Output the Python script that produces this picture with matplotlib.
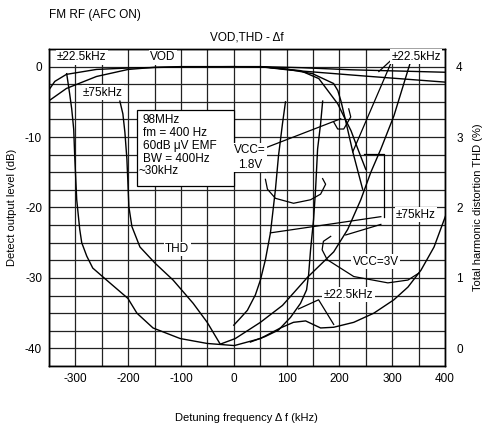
import numpy as np
import matplotlib
matplotlib.use("Agg")
import matplotlib.pyplot as plt

plt.rcParams['font.family'] = ['Liberation Sans', 'DejaVu Sans']
plt.rcParams['axes.unicode_minus'] = False
FS = 8.5

# ---------------- data (x: kHz, VOD: dB, THD: %) ----------------
# VOD curves
vod22_x = [-351, -339, -317, -260, -200, -100, 0, 50, 127, 222, 400]
vod22_y = [-3.4, -2.1, -1.1, -0.4, -0.2, -0.05, 0, 0, -0.15, -0.45, -0.8]
vod75_x = [-351, -317, -260, -200, -150, -100, 0, 60, 107, 250, 400]
vod75_y = [-4.9, -3.1, -1.4, -0.4, -0.1, 0, 0, -0.1, -0.5, -1.35, -2.2]
vod_d1_x = [50, 100, 149, 189, 197, 203, 214, 225, 244]
vod_d1_y = [0, -0.35, -1.0, -2.4, -3.4, -4.9, -8.4, -12.0, -17.4]
vod_d2_x = [69, 126, 161, 178, 197, 208, 222, 235, 250]
vod_d2_y = [-0.14, -0.57, -1.7, -3.4, -5.3, -7.0, -9.1, -11.7, -14.6]

# THD curves
thd1_x = [-316.5, -310.8, -307, -303.2, -301.3, -297.5, -291.8, -288, -278.5, -267.1,
          -234.8, -200.6, -183.5, -153, -101.7, -50.4, 1, 50.4, 88.4, 113, 136,
          164.4, 189.2, 227.2, 265.2, 303.2, 329.8, 354.5, 379.3, 402]
thd1_y = [3.9, 3.61, 3.4, 3.11, 2.73, 2.11, 1.69, 1.5, 1.31, 1.14,
          0.93, 0.71, 0.5, 0.29, 0.14, 0.07, 0.04, 0.14, 0.29, 0.37, 0.39,
          0.29, 0.3, 0.37, 0.5, 0.69, 0.87, 1.11, 1.44, 1.9]
thd2_x = [-215.8, -210.1, -206.3, -202.5, -200.6, -198.7, -193, -177.8, -149.2, -115,
          -77, -50.4, -25.7, 2.9, 50.4, 92.2, 139.7, 189.2, 215.8, 240.5, 259.5,
          278.5, 303.2, 335.6]
thd2_y = [3.51, 3.33, 3.07, 2.69, 2.36, 2.01, 1.73, 1.44, 1.21, 0.97,
          0.64, 0.37, 0.06, 0.14, 0.37, 0.61, 1.01, 1.37, 1.69, 2.11, 2.5,
          2.83, 3.3, 4.09]
thd3_x = [0, 12.4, 25.7, 40.9, 50.4, 59.9, 69.4, 78.9, 84.6, 92.2, 97.9]
thd3_y = [0.33, 0.43, 0.54, 0.76, 0.97, 1.26, 1.64, 2.26, 2.73, 3.19, 3.5]
thd4_x = [31.4, 59.9, 84.6, 107.4, 126.4, 137.8, 141.6, 145.4, 151.1, 154.9, 158.7, 164.4, 168.3]
thd4_y = [0.09, 0.17, 0.26, 0.44, 0.64, 0.83, 1.04, 1.4, 1.83, 2.26, 2.83, 3.19, 3.51]

# leader lines / arcs (x kHz, y dB)
lead_vcc18_x = [54.2, 202.5]
lead_vcc18_y = [-11.7, -7.4]
hook_x = [189.2, 196.8, 208.2, 221.5, 217.7]
hook_y = [-7.86, -8.86, -8.86, -7.14, -6.0]
arc18_x = [59.9, 63.7, 78.9, 113.1, 145.4, 164.4, 173.9, 168.2]
arc18_y = [-16.0, -17.4, -18.7, -19.4, -18.9, -18.1, -16.7, -15.9]
lead75a_x = [69.4, 278.5]
lead75a_y = [-23.6, -21.3]
lead75b_x = [212, 278.5]
lead75b_y = [-23.9, -22.4]
bracket_x = [246.2, 284.2, 284.2]
bracket_y = [-12.4, -12.4, -21.3]
lead22a_x = [301.3, 274.7]
lead22a_y = [1.14, -0.7]
lead22b_x = [301.3, 225.3]
lead22b_y = [1.14, -12.1]
lead22c_x = [122.6, 160.6, 189.2]
lead22c_y = [-34.4, -33.1, -36.6]
arc3_x = [183.5, 169.7, 167.3, 176.8, 227.2, 291.8, 329.8, 350.7]
arc3_y = [-24.1, -24.8, -26.0, -27.4, -29.8, -30.7, -30.3, -29.3]

x_ticks = [-300, -200, -100, 0, 100, 200, 300, 400]
db_ticks = [-40, -30, -20, -10, 0]
thd_ticks = [0, 1, 2, 3, 4]

# ---------------- figure ----------------
fig = plt.figure(figsize=(4.88, 4.30), dpi=100)
ax = fig.add_axes([49/488, 1-366/430, 396/488, 317/430])
ax.set_xlim(-350, 400)
ax.set_ylim(-42.5, 2.5)
ax2 = ax.twinx()
ax2.set_ylim(-0.25, 4.25)

ax.set_xticks(x_ticks)
ax.set_xticks(np.arange(-350, 401, 50), minor=True)
ax.set_yticks(db_ticks)
ax.set_yticks(np.arange(-42.5, 2.6, 2.5), minor=True)
ax2.set_yticks(thd_ticks)
ax.grid(True, which='both', color='#222222', lw=0.9)
ax.set_axisbelow(True)
for a in (ax, ax2):
    a.tick_params(which='both', length=0, labelsize=FS, pad=5)
    for s in a.spines.values():
        s.set_linewidth(1.0)
ax2.tick_params(pad=8)

lk = dict(color='black', lw=1.0)
ax.plot(vod22_x, vod22_y, **lk)
ax.plot(vod75_x, vod75_y, **lk)
ax.plot(vod_d1_x, vod_d1_y, **lk)
ax.plot(vod_d2_x, vod_d2_y, **lk)

ax2.plot(thd1_x, thd1_y, **lk)
ax2.plot(thd2_x, thd2_y, **lk)
ax2.plot(thd3_x, thd3_y, **lk)
ax2.plot(thd4_x, thd4_y, **lk)

T = ax.transData
for xs, ys in [(lead_vcc18_x, lead_vcc18_y), (hook_x, hook_y), (arc18_x, arc18_y),
               (lead75a_x, lead75a_y), (lead75b_x, lead75b_y), (bracket_x, bracket_y),
               (lead22a_x, lead22a_y), (lead22b_x, lead22b_y), (lead22c_x, lead22c_y),
               (arc3_x, arc3_y)]:
    ax2.plot(xs, ys, transform=T, color='black', lw=0.9)

wb = dict(facecolor='white', edgecolor='none', pad=1.0)
def lab(x, y, s, ha='center'):
    ax2.text(x, y, s, transform=T, ha=ha, va='center', fontsize=FS, bbox=wb, zorder=5)

lab(-288, 1.3, '±22.5kHz')
lab(-134, 1.3, 'VOD')
lab(-248, -3.7, '±75kHz')
lab(345, 1.4, '±22.5kHz')
lab(-107, -25.9, 'THD')
lab(345, -21.0, '±75kHz')
lab(269, -27.7, 'VCC=3V')
lab(217, -32.4, '±22.5kHz')
ax2.text(31, -12.9, 'VCC=\n1.8V', transform=T, ha='center', va='center', fontsize=FS,
         bbox=wb, zorder=5, linespacing=1.25)

# info box
rect = plt.Rectangle((-183.5, -16.9), 184.5, 10.8, transform=T, facecolor='white',
                     edgecolor='black', lw=0.9, zorder=4)
ax2.add_patch(rect)
info = ['98MHz', 'fm = 400 Hz', '60dB μV EMF', 'BW = 400Hz', '~30kHz']
info_y = [-7.57, -9.43, -11.3, -13.07, -14.86]
for i, (s, yv) in enumerate(zip(info, info_y)):
    ax2.text(-172 if i < 4 else -181, yv, s, transform=T, ha='left', va='center',
             fontsize=FS, zorder=6)

fig.text(49/488, 1-15/430, 'FM RF (AFC ON)', ha='left', va='center', fontsize=FS)
fig.text(247/488, 1-37/430, 'VOD,THD - Δf', ha='center', va='center', fontsize=FS)
fig.text(246/488, 1-418/430, 'Detuning frequency Δ f (kHz)', ha='center', va='center', fontsize=FS - 0.5)
fig.text(12/488, 1-207/430, 'Detect output level (dB)', ha='center', va='center',
         rotation=90, fontsize=FS - 0.5)
fig.text(478/488, 1-207/430, 'Total harmonic distortion THD (%)', ha='center', va='center',
         rotation=90, fontsize=FS - 0.5)

fig.savefig('out.png', dpi=100)
